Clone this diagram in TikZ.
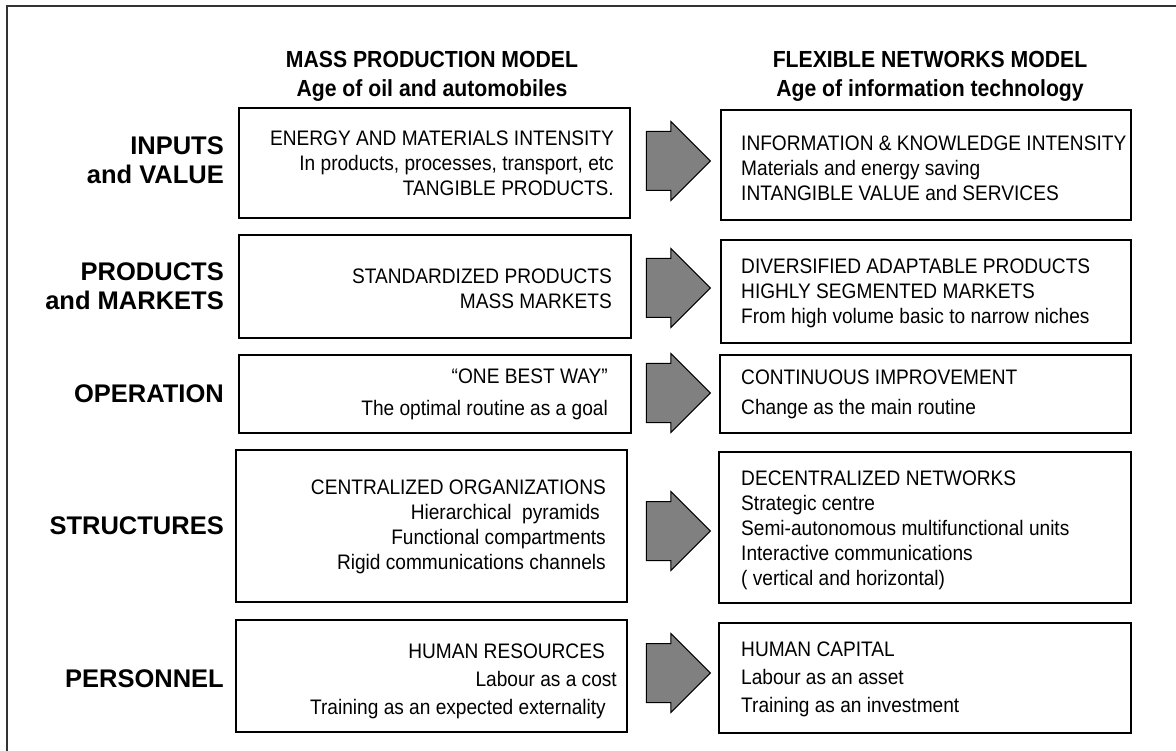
\documentclass[tikz,border=0pt]{standalone}
\usepackage{fontspec}
\setmainfont{Liberation Sans}
\newfontfamily\narrowfont{Liberation Sans}[FakeStretch=0.91]
\usetikzlibrary{shapes.arrows}
\definecolor{arrowgray}{HTML}{808080}

\tikzset{
  box/.style={draw,line width=1.8pt,inner sep=0pt},
  lefttext/.style={anchor=east,align=right,inner sep=0pt,font=\narrowfont\fontsize{21}{25}\selectfont},
  righttext/.style={anchor=west,align=left,inner sep=0pt,font=\narrowfont\fontsize{21}{25}\selectfont},
  rowlabel/.style={anchor=east,align=right,inner sep=0pt,font=\bfseries\fontsize{25.5}{29}\selectfont},
  header/.style={align=center,inner sep=0pt,font=\narrowfont\bfseries\fontsize{23.3}{29}\selectfont},
  bigarrow/.style={single arrow,draw,line width=1pt,fill=arrowgray,inner sep=0pt,anchor=tip,
    text height=29pt,text depth=29pt,minimum height=64pt,single arrow head extend=10pt}
}

\begin{document}
\begin{tikzpicture}
  [x=1pt,y=-1pt]
  \useasboundingbox (0,0) rectangle (1176,751);
  \draw[black!80,line width=1.5pt] (7,751) |- (1176,6);

  % column headers
  \node[header] (h1) at (432,76) {MASS PRODUCTION MODEL\\Age of oil and automobiles};
  \node[header] (h2) at (930,76) {FLEXIBLE NETWORKS MODEL\\Age of information technology};

  % row labels
  \node[rowlabel] (k1) at (224,160) {INPUTS\\and VALUE};
  \node[rowlabel] (k2) at (224,286) {PRODUCTS\\and MARKETS};
  \node[rowlabel] (k3) at (224,394) {OPERATION};
  \node[rowlabel] (k4) at (224,526) {STRUCTURES};
  \node[rowlabel] (k5) at (224,679) {PERSONNEL};

  % left boxes
  \node[box,minimum width=391pt,minimum height=110pt] (l1) at (434.5,163) {};
  \node[box,minimum width=392pt,minimum height=103pt] (l2) at (435,286.5) {};
  \node[box,minimum width=392pt,minimum height=78pt]  (l3) at (435,394) {};
  \node[box,minimum width=391pt,minimum height=152pt] (l4) at (431.5,526) {};
  \node[box,minimum width=391pt,minimum height=112pt] (l5) at (431.5,676) {};

  % right boxes
  \node[box,minimum width=410pt,minimum height=110pt] (r1) at (926,165) {};
  \node[box,minimum width=410pt,minimum height=103pt] (r2) at (926,291.5) {};
  \node[box,minimum width=411pt,minimum height=78pt]  (r3) at (925.5,394) {};
  \node[box,minimum width=412pt,minimum height=151pt] (r4) at (925,527.5) {};
  \node[box,minimum width=412pt,minimum height=110pt] (r5) at (925,678) {};

  \node[lefttext] (t1) at (614,163) {ENERGY AND MATERIALS INTENSITY\\In products, processes, transport, etc\\TANGIBLE PRODUCTS.};
  \node[lefttext] (t2) at (612,289) {STANDARDIZED PRODUCTS\\MASS MARKETS};
  \node[lefttext] (t3) at (608,394) {“ONE BEST WAY”\\[7pt]The optimal routine as a goal};
  \node[lefttext] (t4) at (606,527) {CENTRALIZED ORGANIZATIONS\\Hierarchical~ pyramids\kern6pt\null\\Functional compartments\\Rigid communications channels};
  \node[lefttext] (t5) at (606,681) {HUMAN RESOURCES\kern1pt\null\\[3pt]Labour as a cost\kern-11pt\null\\[3pt]Training as an expected externality};

  \node[righttext] (u1) at (741,168) {INFORMATION \& KNOWLEDGE INTENSITY\\Materials and energy saving\\INTANGIBLE VALUE and SERVICES};
  \node[righttext] (u2) at (741,293) {DIVERSIFIED ADAPTABLE PRODUCTS\\HIGHLY SEGMENTED MARKETS\\From high volume basic to narrow niches};
  \node[righttext] (u3) at (741,394) {CONTINUOUS IMPROVEMENT\\[5pt]Change as the main routine};
  \node[righttext] (u4) at (741,530) {DECENTRALIZED NETWORKS\\Strategic centre\\Semi-autonomous multifunctional units\\Interactive communications\\( vertical and horizontal)};
  \node[righttext] (u5) at (741,679) {HUMAN CAPITAL\\[3pt]Labour as an asset\\[3pt]Training as an investment};

  \foreach \i/\y in {1/161,2/288,3/393,4/531,5/673}
    \node[bigarrow] (a\i) at (711,\y) {};

\end{tikzpicture}
\end{document}
